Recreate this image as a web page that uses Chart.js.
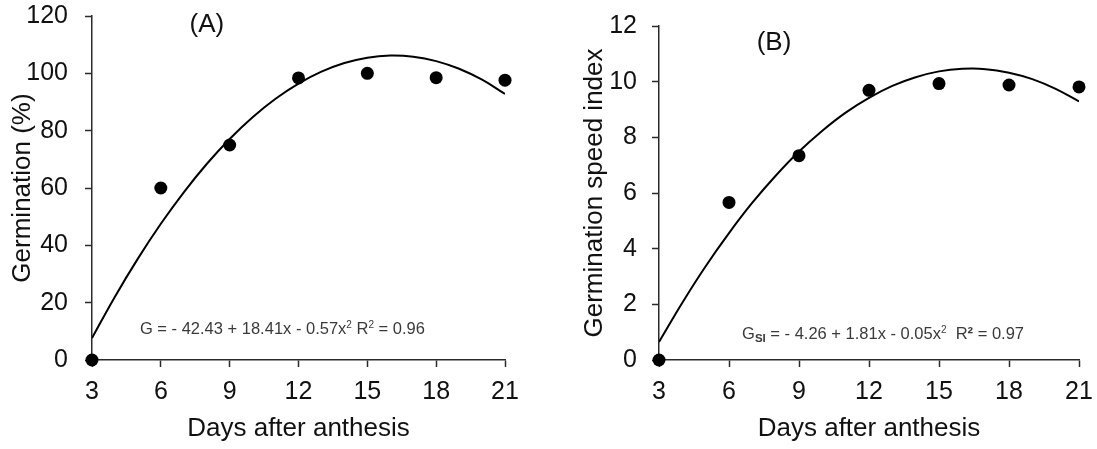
<!DOCTYPE html>
<html><head><meta charset="utf-8">
<script src="https://cdn.jsdelivr.net/npm/chart.js@4"></script>
<style>
html,body{margin:0;padding:0;background:#fff;}
#wrap{position:relative;width:1097px;height:449px;overflow:hidden;}
.c{position:absolute;top:0;width:548px;height:449px;}
</style></head><body>
<div id="wrap">
<div class="c" style="left:0"><canvas id="cA"></canvas></div>
<div class="c" style="left:549px"><canvas id="cB"></canvas></div>
</div>
<script>
// ---- data ----
const days = [3, 6, 9, 12, 15, 18, 21];
const germination = [0, 60, 75, 98.4, 100, 98.5, 97.6];          // (%)
const speedIndex = [0, 5.66, 7.34, 9.69, 9.93, 9.88, 9.81];       // GSI
const fitDays = [3,4,5,6,7,8,9,10,11,12,13,14,15,16,17,18,19,20,21];
const germinationFit = [7.67,22.09,35.37,47.51,58.51,68.37,77.09,84.67,91.11,96.41,100.57,103.59,105.47,106.21,105.81,104.27,101.59,97.77,92.81];
const speedIndexFit = [0.65,2.06,3.37,4.56,5.65,6.62,7.49,8.24,8.89,9.42,9.85,10.16,10.37,10.46,10.45,10.32,10.09,9.74,9.29];
const xTicks = [3, 6, 9, 12, 15, 18, 21];
const yTicksA = [0, 20, 40, 60, 80, 100, 120];
const yTicksB = [0, 2, 4, 6, 8, 10, 12];
const xTitle = 'Days after anthesis';
const yTitleA = 'Germination (%)';
const yTitleB = 'Germination speed index';

const FONT = "'Liberation Sans', Arial, Helvetica, sans-serif";
const AXIS = '#2a2a2a';

const annot = {
  id: 'annot',
  afterDatasetsDraw(chart, args, opts) {
    const ctx = chart.ctx, xs = chart.scales.x, ys = chart.scales.y;
    ctx.save();
    (opts.items || []).forEach(it => {
      let px = xs.getPixelForValue(it.x), py = ys.getPixelForValue(it.y);
      ctx.fillStyle = it.color || '#000';
      if (it.segments) {
        ctx.textAlign = 'left'; ctx.textBaseline = 'alphabetic';
        let cx = px;
        it.segments.forEach(s => {
          ctx.font = (s.bold ? '600 ' : '') + s.size + 'px ' + FONT;
          ctx.fillText(s.t, cx, py + (s.dy || 0));
          cx += ctx.measureText(s.t).width;
        });
      } else {
        ctx.font = it.size + 'px ' + FONT;
        ctx.textAlign = 'center'; ctx.textBaseline = 'middle';
        ctx.fillText(it.text, px, py);
      }
    });
    ctx.restore();
  }
};

function makeChart(id, yVals, fitVals, yTicks, yTitle, cfg) {
  const pts = days.map((d, i) => ({x: d, y: yVals[i]}));
  const fit = fitDays.map((d, i) => ({x: d, y: fitVals[i]}));
  return new Chart(document.getElementById(id), {
    type: 'scatter',
    data: {datasets: [
      {data: fit, showLine: true, borderColor: '#000', borderWidth: 2, pointRadius: 0, tension: 0.4, fill: false, order: 2},
      {data: pts, showLine: false, pointRadius: 6.5, pointBackgroundColor: '#000', pointBorderColor: '#000', pointBorderWidth: 0, clip: false, order: 1}
    ]},
    options: {
      responsive: true, maintainAspectRatio: false, animation: false,
      layout: {padding: cfg.padding},
      plugins: {legend: {display: false}, tooltip: {enabled: false}, annot: {items: cfg.items}},
      scales: {
        x: {
          type: 'linear', min: xTicks[0], max: xTicks[xTicks.length - 1],
          afterBuildTicks: s => { s.ticks = xTicks.map(v => ({value: v})); },
          afterFit: s => { s.height = cfg.xHeight; s.paddingLeft = 0; s.paddingRight = 0; },
          grid: {drawOnChartArea: false, drawTicks: true, tickLength: 7, tickColor: AXIS, tickWidth: 1.5, color: AXIS},
          border: {display: true, color: AXIS, width: 1.5},
          ticks: {color: '#111', font: {family: FONT, size: 25}, padding: 10, maxRotation: 0, autoSkip: false},
          title: {display: true, text: xTitle, color: '#111', font: {family: FONT, size: 26}, padding: {top: 4, bottom: 5}}
        },
        y: {
          type: 'linear', min: yTicks[0], max: yTicks[yTicks.length - 1],
          afterBuildTicks: s => { s.ticks = yTicks.map(v => ({value: v})); },
          afterFit: s => { s.width = cfg.yWidth; s.paddingTop = 0; s.paddingBottom = 0; },
          grid: {drawOnChartArea: false, drawTicks: true, tickLength: 7, tickColor: AXIS, tickWidth: 1.5, color: AXIS},
          border: {display: true, color: AXIS, width: 1.5},
          ticks: {color: '#111', font: {family: FONT, size: 25}, padding: cfg.tickPad, autoSkip: false},
          title: {display: true, text: yTitle, color: '#111', font: {family: FONT, size: 26}, padding: {top: 7, bottom: 4}}
        }
      }
    },
    plugins: [annot]
  });
}

makeChart('cA', germination, germinationFit, yTicksA, yTitleA, {
  padding: {top: 16, right: 43, left: 0, bottom: 0}, xHeight: 89, yWidth: 92, tickPad: 17,
  items: [
    {x: 8.01, y: 116.8, text: '(A)', size: 26, color: '#111'},
    {x: 5.09, y: 9.07, color: '#3a3a3a', segments: [
      {t: 'G = - 42.43 + 18.41x - 0.57x', size: 16.5},
      {t: '2', size: 10, dy: -6},
      {t: ' R', size: 16.5},
      {t: '2', size: 10, dy: -6},
      {t: ' = 0.96', size: 16.5}
    ]}
  ]
});

makeChart('cB', speedIndex, speedIndexFit, yTicksB, yTitleB, {
  padding: {top: 26, right: 18, left: 23, bottom: 0}, xHeight: 89, yWidth: 87, tickPad: 15,
  items: [
    {x: 7.93, y: 11.38, text: '(B)', size: 26, color: '#111'},
    {x: 6.56, y: 0.755, color: '#3a3a3a', segments: [
      {t: 'G', size: 16.5},
      {t: 'SI', size: 11.5, dy: 3, bold: true},
      {t: ' = - 4.26 + 1.81x - 0.05x', size: 16.5},
      {t: '2', size: 10, dy: -6},
      {t: '  R', size: 16.5},
      {t: '²', size: 16.5, bold: true},
      {t: ' = 0.97', size: 16.5}
    ]}
  ]
});
</script>
</body></html>
